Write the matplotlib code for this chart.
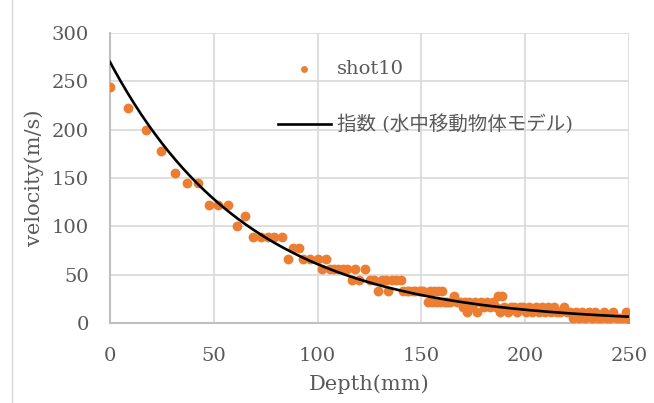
import matplotlib
matplotlib.use("Agg")
import matplotlib.pyplot as plt
import numpy as np

# measured points (depth in mm, velocity in m/s)
depth = [0, 8.7, 17.3, 24.6, 31.3, 37.1, 42.4, 47.7, 52, 56.8, 61.2, 65,
         68.9, 72.7, 76.1, 79, 82.9, 85.7, 88.2, 91, 93, 96.5, 100, 102,
         104, 106, 108, 110, 112, 114, 116.6, 118, 120, 123, 125, 127, 129,
         131, 133, 134, 136, 138, 140, 141, 143, 144, 146, 147, 149, 150,
         151, 153, 154, 155, 156, 157, 158, 159, 160, 161, 162, 163,
         164, 165.5, 167, 168.5, 170, 171, 172, 173, 174.5, 176, 177, 178.5,
         180, 181.5, 183, 184.5, 186, 187, 188, 189, 190, 191.5, 193, 194.5,
         196, 197.5, 199, 200.5, 202, 203.5, 205, 206.5, 208, 209.5, 211,
         212.5, 214, 215.5, 217, 218.5, 220, 221.5, 223, 224.5, 226, 227.5,
         229, 230.5, 232, 233.5, 235, 236.5, 238, 239.5, 241, 242.5, 244,
         245.5, 247, 248.5, 250]
velocity = [244.4, 222.2, 200, 177.8, 155.6, 144.4, 144.4, 122.2, 122.2, 122.2,
            100, 111.1, 88.9, 88.9, 88.9, 88.9, 88.9, 66.7, 77.8, 77.8, 66.7,
            66.7, 66.7, 55.6, 66.7, 55.6, 55.6, 55.6, 55.6, 55.6, 44.4, 55.6,
            44.4, 55.6, 44.4, 44.4, 33.3, 44.4, 44.4, 33.3, 44.4, 44.4, 44.4,
            33.3, 33.3, 33.3, 33.3, 33.3, 33.3, 33.3, 33.3, 22.2, 33.3, 22.2,
            33.3, 22.2, 33.3, 22.2, 33.3, 22.2, 22.2, 22.2,
            22.2, 27.8, 22.2, 22.2, 16.7, 22.2, 11.1, 22.2, 16.7, 22.2, 11.1,
            22.2, 16.7, 22.2, 16.7, 22.2, 16.7, 27.8, 11.1, 27.8, 16.7, 11.1,
            16.7, 16.7, 11.1, 16.7, 16.7, 11.1, 16.7, 11.1, 16.7, 11.1, 16.7,
            11.1, 16.7, 11.1, 16.7, 11.1, 11.1, 16.7, 11.1, 11.1, 5.6, 11.1,
            5.6, 11.1, 5.6, 11.1, 5.6, 11.1, 5.6, 5.6, 11.1, 5.6, 5.6, 11.1,
            5.6, 5.6, 5.6, 11.1, 4.0]

# exponential trendline  v = a * exp(b * x)
fit_a = 270.0
fit_b = -0.0149

plt.rcParams['font.family'] = ['DejaVu Serif', 'Noto Sans CJK JP']

fig = plt.figure(figsize=(6.54, 4.03), dpi=100)
ax = fig.add_axes([110 / 654, 1 - 323 / 403, 519 / 654, 290 / 403])

ax.scatter(depth, velocity, s=50, color='#ED7D31', linewidths=0,
           label='shot10', zorder=3)
xf = np.linspace(0, 250, 300)
ax.plot(xf, fit_a * np.exp(fit_b * xf), color='black', lw=1.9,
        label='指数 (水中移動物体モデル)', zorder=4)

ax.set_xlim(0, 250)
ax.set_ylim(0, 300)
ax.set_xticks(np.arange(0, 251, 50))
ax.set_yticks(np.arange(0, 301, 50))
ax.grid(color='#d9d9d9', lw=1.2)
ax.set_axisbelow(True)
for s in ['top', 'right']:
    ax.spines[s].set_visible(False)
for s in ['left', 'bottom']:
    ax.spines[s].set_color('#bfbfbf')
    ax.spines[s].set_linewidth(1.5)
ax.tick_params(length=0, labelsize=14, colors='#595959')
ax.tick_params(axis='x', pad=17)
ax.tick_params(axis='y', pad=15)

ax.set_xlabel('Depth(mm)', fontsize=15, color='#595959', labelpad=7)
ax.set_ylabel('velocity(m/s)', fontsize=15, color='#595959', labelpad=6)

ax.legend(loc='upper left', bbox_to_anchor=(278 / 654, 1 - 60 / 403),
          bbox_transform=fig.transFigure, frameon=False, fontsize=14,
          handlelength=2.7, handletextpad=0.35, labelspacing=1.9,
          borderpad=0, borderaxespad=0, markerscale=0.7,
          labelcolor='#595959')

# chart area border
fig.add_artist(plt.Line2D([12 / 654, 12 / 654], [0, 1], color='#d9d9d9',
                          lw=1, transform=fig.transFigure))

fig.savefig('out.png', dpi=100)
